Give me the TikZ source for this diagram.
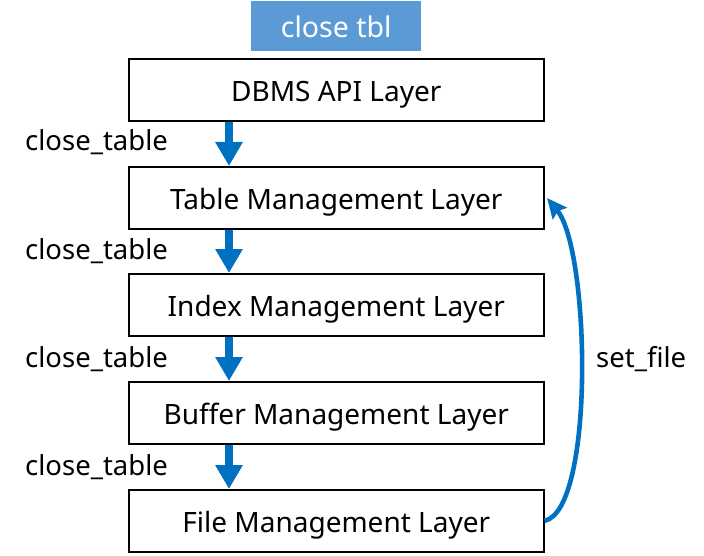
\documentclass[tikz,border=0pt]{standalone}
\usepackage{fontspec}
\setmainfont{Noto Sans}
\usetikzlibrary{arrows.meta}
\definecolor{titleblue}{HTML}{5B9BD5}
\definecolor{arrowblue}{HTML}{0070C0}
\begin{document}
\begin{tikzpicture}[x=1pt,y=-1pt,
  layer/.style={draw=black,line width=1.6pt,minimum width=415pt,minimum height=62pt,inner sep=0pt,text height=24pt,text depth=0pt,font=\fontsize{28}{32}\selectfont,anchor=north west},
  titlebox/.style={fill=titleblue,text=white,minimum width=170pt,minimum height=50pt,inner sep=0pt,text height=22pt,text depth=0pt,font=\fontsize{28.5}{32}\selectfont,anchor=north west},
  down/.style={draw=arrowblue,line width=8pt,-{Triangle[width=26pt,length=24pt]}},
  curvy/.style={draw=arrowblue,line width=4.6pt,-{Stealth[width=18pt,length=20pt,inset=3pt]}},
  lbl/.style={font=\fontsize{27.5}{32}\selectfont,inner sep=0pt,anchor=base west}]
\useasboundingbox (0,0) rectangle (704,556);
\node[titlebox] (title) at (251,1) {close tbl};
\node[layer] (dbms) at (128,58) {DBMS API Layer};
\node[layer] (table) at (128,166) {Table Management Layer};
\node[layer] (index) at (128,273) {Index Management Layer};
\node[layer] (buffer) at (128,381) {Buffer Management Layer};
\node[layer] (file) at (128,489) {File Management Layer};
\coordinate (x1) at (229,0);
\draw[down] (dbms.south -| x1) -- (table.north -| x1);
\draw[down] (table.south -| x1) -- (index.north -| x1);
\draw[down] (index.south -| x1) -- (buffer.north -| x1);
\draw[down] (buffer.south -| x1) -- (file.north -| x1);
\node[lbl] (l1) at (25,151) {close\_table};
\node[lbl] (l2) at (25,259) {close\_table};
\node[lbl] (l3) at (25,367) {close\_table};
\node[lbl] (l4) at (25,475) {close\_table};
\coordinate (tgt) at (547,198);
\draw[curvy] (file.east) .. controls (595,510) and (590,250) .. (tgt);
\node[lbl] (sf) at (596,367) {set\_file};
\end{tikzpicture}
\end{document}
